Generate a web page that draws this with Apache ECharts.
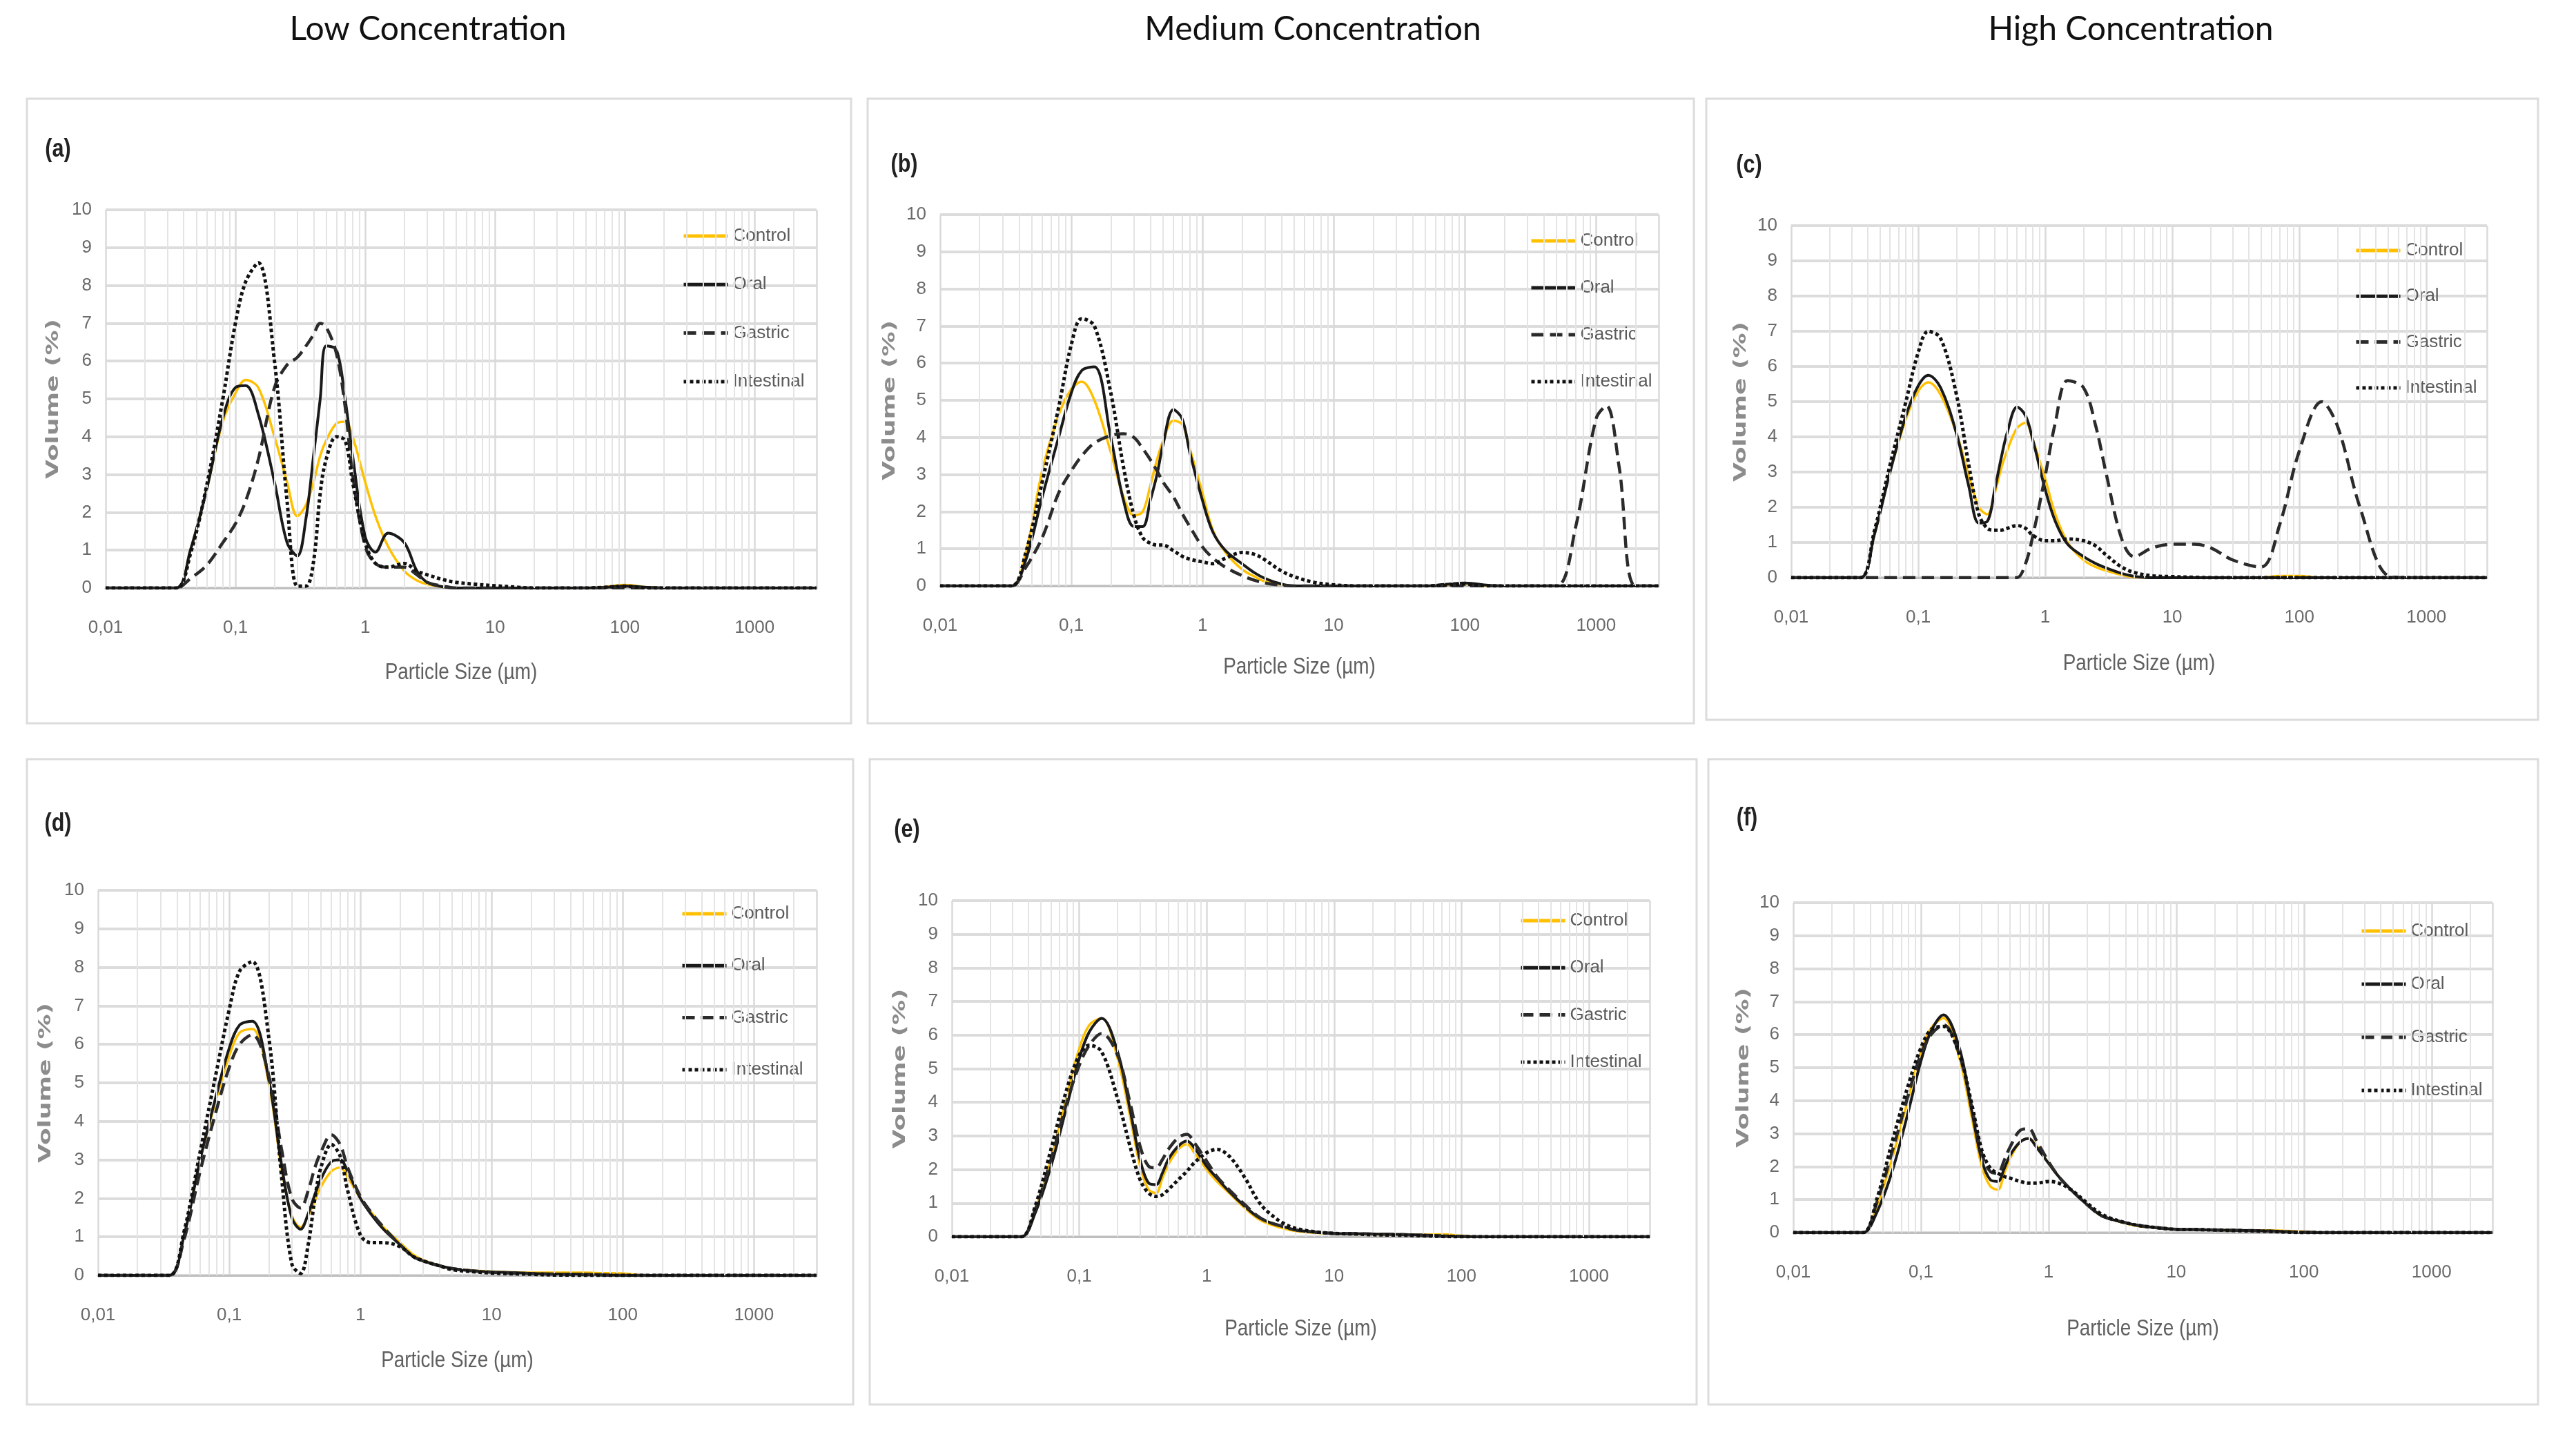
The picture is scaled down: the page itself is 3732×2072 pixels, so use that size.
<!DOCTYPE html>
<html><head><meta charset="utf-8">
<script src="https://cdn.jsdelivr.net/npm/echarts@6/dist/echarts.min.js"></script>
<style>html,body{margin:0;padding:0;background:#fff}#c{width:3732px;height:2072px}</style>
</head><body><div id="c"></div>
<script>
// ---------- shared x grid (particle size, µm) ----------
const SIZES = [0.01,0.02,0.035, 0.045,0.06,0.08,0.1,0.12,0.15,0.2,0.25,0.3,0.35,0.4,0.45,0.5,0.6,0.7,0.8, 1,1.2,1.5,2,2.5,3,4,5,7, 10,15,20,30,50,70,100,150,200,300,500,700, 1000,1200,1500,2000,3000];
const SERIES_NAMES = ['Control','Oral','Gastric','Intestinal'];
const X_TICKS = [0.01,0.1,1,10,100,1000];
const X_TICK_LABELS = ['0,01','0,1','1','10','100','1000'];
const COLUMN_TITLES = ['Low Concentration','Medium Concentration','High Concentration'];
const PANEL_TAGS = ['(a)','(b)','(c)','(d)','(e)','(f)'];
const X_NAME = 'Particle Size (µm)';
const Y_NAME = 'Volume (%)';

// ---------- (a) ----------
const A_CONTROL    = [0,0,0, 1.0,2.6,4.4,5.15,5.5,5.3,4.0,2.8,1.9,2.2,2.8,3.5,3.9,4.35,4.4,4.0, 2.8,1.9,1.1,0.45,0.2,0.1,0.03,0,0, 0,0,0,0,0,0.03,0.08,0.02,0,0,0,0, 0,0,0,0,0];
const A_ORAL       = [0,0,0, 1.0,2.6,4.5,5.3,5.35,4.6,2.8,1.2,0.85,1.85,3.5,5.0,6.4,6.3,5.0,3.5, 1.35,0.95,1.45,1.2,0.45,0.15,0.03,0,0, 0,0,0,0,0,0.02,0.05,0.02,0,0,0,0, 0,0,0,0,0];
const A_GASTRIC    = [0,0,0, 0.25,0.6,1.2,1.7,2.3,3.4,5.3,5.9,6.1,6.4,6.7,7.0,6.9,6.2,4.8,3.0, 1.1,0.65,0.55,0.55,0.35,0.15,0.05,0,0, 0,0,0,0,0,0,0,0,0,0,0,0, 0,0,0,0,0];
const A_INTESTINAL = [0,0,0, 0.9,2.7,5.0,7.0,8.1,8.6,6.0,2.3,0.05,0.05,0.7,2.5,3.4,4.0,3.9,2.8, 1.2,0.65,0.55,0.65,0.45,0.35,0.22,0.15,0.1, 0.06,0.02,0,0,0,0.02,0.05,0,0,0,0,0, 0,0,0,0,0];
// ---------- (b) ----------
const B_CONTROL    = [0,0,0, 0.9,3.1,4.6,5.3,5.5,5.0,3.6,2.4,1.9,2.0,2.7,3.4,3.9,4.45,4.35,3.7, 2.5,1.5,0.9,0.45,0.25,0.12,0.04,0,0, 0,0,0,0,0,0.03,0.06,0,0,0,0,0, 0,0,0,0,0];
const B_ORAL       = [0,0,0, 0.7,2.4,4.0,5.2,5.8,5.9,4.0,2.3,1.6,1.6,2.3,3.0,3.8,4.75,4.5,3.6, 2.3,1.45,0.95,0.6,0.35,0.2,0.05,0,0, 0,0,0,0,0,0.04,0.08,0.02,0,0,0,0, 0,0,0,0,0];
const B_GASTRIC    = [0,0,0, 0.5,1.3,2.5,3.1,3.5,3.85,4.05,4.1,4.0,3.7,3.4,3.1,2.8,2.4,1.95,1.6, 1.05,0.75,0.5,0.28,0.15,0.08,0.02,0,0, 0,0,0,0,0,0,0,0,0,0,0,1.6, 4.5,4.85,3.2,0,0];
const B_INTESTINAL = [0,0,0, 0.9,2.8,4.8,6.5,7.2,7.0,5.2,3.2,1.9,1.3,1.15,1.1,1.1,0.95,0.8,0.72, 0.65,0.6,0.75,0.9,0.85,0.7,0.4,0.25,0.1, 0.03,0,0,0,0,0.02,0.05,0,0,0,0,0, 0,0,0,0,0];
// ---------- (c) ----------
const C_CONTROL    = [0,0,0, 1.2,3.0,4.5,5.3,5.55,5.2,4.1,2.9,2.0,1.8,2.4,3.1,3.6,4.25,4.4,3.9, 2.8,1.8,1.0,0.5,0.3,0.2,0.08,0.02,0, 0,0,0,0,0,0.05,0.05,0,0,0,0,0, 0,0,0,0,0];
const C_ORAL       = [0,0,0, 1.2,3.0,4.6,5.45,5.75,5.4,4.1,2.6,1.55,1.6,2.5,3.4,4.1,4.85,4.6,3.9, 2.5,1.6,0.95,0.6,0.4,0.28,0.12,0.04,0, 0,0,0,0,0,0,0,0,0,0,0,0, 0,0,0,0,0];
const C_GASTRIC    = [0,0,0, 0,0,0,0,0,0,0,0,0,0,0,0,0,0,0.4,1.2, 2.9,4.4,5.6,5.4,4.3,3.0,1.1,0.6,0.85, 0.95,0.95,0.85,0.5,0.3,1.5,3.6,5.0,4.3,2.0,0.05,0, 0,0,0,0,0];
const C_INTESTINAL = [0,0,0, 1.3,3.2,5.0,6.4,7.0,6.8,5.2,3.2,1.8,1.4,1.35,1.35,1.4,1.48,1.4,1.2, 1.05,1.05,1.1,1.05,0.9,0.65,0.3,0.15,0.05, 0.03,0.01,0,0,0,0,0,0,0,0,0,0, 0,0,0,0,0];
// ---------- (d) ----------
const D_CONTROL    = [0,0,0, 1.0,3.0,4.6,5.7,6.3,6.4,5.0,2.8,1.55,1.25,1.55,1.95,2.3,2.7,2.8,2.55, 2.0,1.65,1.25,0.85,0.55,0.4,0.25,0.18,0.13, 0.1,0.08,0.07,0.07,0.07,0.06,0.05,0,0,0,0,0, 0,0,0,0,0];
const D_ORAL       = [0,0,0, 1.0,3.0,4.7,5.9,6.5,6.6,5.1,2.9,1.5,1.2,1.6,2.1,2.5,2.95,3.0,2.7, 2.0,1.6,1.2,0.8,0.5,0.38,0.25,0.18,0.12, 0.09,0.07,0.05,0.04,0.03,0.02,0,0,0,0,0,0, 0,0,0,0,0];
const D_GASTRIC    = [0,0,0, 0.9,2.7,4.3,5.4,6.0,6.25,5.2,3.3,2.0,1.75,2.2,2.8,3.2,3.65,3.4,2.8, 2.05,1.65,1.25,0.8,0.5,0.38,0.25,0.18,0.12, 0.08,0.06,0.05,0.03,0.02,0.01,0,0,0,0,0,0, 0,0,0,0,0];
const D_INTESTINAL = [0,0,0, 1.1,3.2,5.3,6.9,7.9,8.15,6.2,2.6,0.3,0.05,0.8,2.0,2.8,3.4,3.1,2.2, 1.05,0.85,0.85,0.75,0.5,0.38,0.25,0.15,0.1, 0.06,0.04,0.03,0.01,0,0,0,0,0,0,0,0, 0,0,0,0,0];
// ---------- (e) ----------
const E_CONTROL    = [0,0,0, 0.8,2.3,4.2,5.6,6.3,6.5,5.3,3.6,2.1,1.4,1.3,1.75,2.15,2.6,2.75,2.5, 2.0,1.65,1.3,0.85,0.55,0.4,0.25,0.17,0.12, 0.09,0.08,0.07,0.07,0.06,0.07,0.03,0,0,0,0,0, 0,0,0,0,0];
const E_ORAL       = [0,0,0, 0.7,2.1,3.9,5.3,6.1,6.5,5.5,3.8,2.3,1.6,1.55,1.9,2.3,2.7,2.85,2.65, 2.1,1.75,1.35,0.9,0.6,0.45,0.3,0.2,0.14, 0.1,0.09,0.08,0.07,0.05,0.03,0.01,0,0,0,0,0, 0,0,0,0,0];
const E_GASTRIC    = [0,0,0, 0.8,2.3,4.0,5.1,5.7,6.05,5.4,4.0,2.7,2.1,2.05,2.3,2.6,2.95,3.05,2.8, 2.25,1.8,1.4,0.95,0.62,0.45,0.3,0.2,0.14, 0.1,0.09,0.08,0.07,0.04,0.02,0.01,0,0,0,0,0, 0,0,0,0,0];
const E_INTESTINAL = [0,0,0, 0.9,2.6,4.4,5.4,5.7,5.5,4.1,2.7,1.7,1.3,1.2,1.25,1.4,1.7,1.95,2.2, 2.5,2.6,2.4,1.75,1.1,0.75,0.4,0.25,0.15, 0.1,0.08,0.06,0.05,0.03,0.01,0,0,0,0,0,0, 0,0,0,0,0];
// ---------- (f) ----------
const F_CONTROL    = [0,0,0, 0.8,2.3,4.1,5.5,6.2,6.5,5.3,3.5,2.0,1.4,1.3,1.8,2.25,2.75,2.85,2.65, 2.1,1.7,1.3,0.85,0.55,0.42,0.28,0.2,0.15, 0.1,0.09,0.08,0.07,0.07,0.06,0.03,0,0,0,0,0, 0,0,0,0,0];
const F_ORAL       = [0,0,0, 0.6,1.9,3.7,5.2,6.1,6.6,5.6,3.7,2.2,1.6,1.55,1.95,2.35,2.75,2.85,2.6, 2.1,1.7,1.3,0.85,0.55,0.42,0.3,0.22,0.15, 0.1,0.09,0.08,0.07,0.05,0.03,0.01,0,0,0,0,0, 0,0,0,0,0];
const F_GASTRIC    = [0,0,0, 0.9,2.5,4.2,5.4,6.0,6.3,5.4,3.8,2.4,1.85,1.8,2.2,2.6,3.1,3.15,2.8, 2.15,1.7,1.3,0.85,0.55,0.42,0.3,0.22,0.15, 0.1,0.09,0.08,0.07,0.05,0.03,0.01,0,0,0,0,0, 0,0,0,0,0];
const F_INTESTINAL = [0,0,0, 1.0,2.8,4.5,5.6,6.15,6.25,5.4,3.9,2.5,1.95,1.8,1.7,1.65,1.55,1.5,1.5, 1.55,1.5,1.3,0.9,0.6,0.45,0.3,0.22,0.15, 0.1,0.09,0.08,0.06,0.04,0.02,0,0,0,0,0,0, 0,0,0,0,0];

const PANEL_DATA = [
  [A_CONTROL, A_ORAL, A_GASTRIC, A_INTESTINAL],
  [B_CONTROL, B_ORAL, B_GASTRIC, B_INTESTINAL],
  [C_CONTROL, C_ORAL, C_GASTRIC, C_INTESTINAL],
  [D_CONTROL, D_ORAL, D_GASTRIC, D_INTESTINAL],
  [E_CONTROL, E_ORAL, E_GASTRIC, E_INTESTINAL],
  [F_CONTROL, F_ORAL, F_GASTRIC, F_INTESTINAL]
];

// ---------- layout (pixels) ----------
const LAYOUT = [
  {frame:[39,143,1194,905],   plot:[153,304,1030,548],  tag:[84,217],   yNameX:78,   xNameY:975,  legend:[988,342,70.3]},
  {frame:[1257,143,1197,905], plot:[1362,311,1041,538], tag:[1310,239], yNameX:1290, xNameY:967,  legend:[2216,349,68]},
  {frame:[2472,143,1205,900], plot:[2595,327,1008,510], tag:[2534,240], yNameX:2523, xNameY:962,  legend:[3411,363,66.3]},
  {frame:[39,1100,1197,935],  plot:[142,1290,1041,558], tag:[84,1194],  yNameX:67,   xNameY:1972, legend:[986,1324,75.3]},
  {frame:[1260,1100,1198,935],plot:[1379,1305,1011,487],tag:[1314,1203],yNameX:1305, xNameY:1926, legend:[2201,1334,68.3]},
  {frame:[2475,1100,1202,935],plot:[2598,1308,1013,478],tag:[2531,1186],yNameX:2527, xNameY:1926, legend:[3419,1349,77]}
];
const TITLE_POS = [[620,43],[1902,43],[3087,43]];

const SANS = "'Liberation Sans',Arial,sans-serif";
const LINE_STYLES = {
  Control:    {color:'#FFC000', width:3.5, type:'solid'},
  Oral:       {color:'#1a1a1a', width:4,   type:'solid'},
  Gastric:    {color:'#2b2b2b', width:4.5, type:[18,9]},
  Intestinal: {color:'#111111', width:5,   type:[5,4]}
};
const MINOR = [];
for (let d = -2; d <= 3; d++) for (let k = 2; k <= 9; k++) {
  const v = +(k * Math.pow(10, d)).toPrecision(6);
  if (v < 3000) MINOR.push(v);
}

const option = {animation:false, backgroundColor:'#ffffff', grid:[], xAxis:[], yAxis:[], series:[], legend:[], graphic:[]};

LAYOUT.forEach((p, i) => {
  const [pl, pt, pw, ph] = p.plot;
  option.grid.push({left:pl, top:pt, width:pw, height:ph});
  option.xAxis.push({
    type:'log', logBase:10, gridIndex:i, min:0.01, max:3000,
    axisLine:{show:true, lineStyle:{color:'#bfbfbf', width:3}},
    axisTick:{show:false},
    axisLabel:{margin:45, fontFamily:SANS, fontSize:26, color:'#6a6a6a', showMaxLabel:false,
      formatter: v => { const k = X_TICKS.findIndex(t => Math.abs(Math.log10(t) - Math.log10(v)) < 1e-6); return k >= 0 ? X_TICK_LABELS[k] : ''; }},
    splitLine:{show:true, lineStyle:{color:'#dadada', width:2.5}}
  });
  option.yAxis.push({
    type:'value', gridIndex:i, min:0, max:10, interval:1,
    axisLine:{show:false}, axisTick:{show:false},
    axisLabel:{margin:20, fontFamily:SANS, fontSize:26, color:'#6a6a6a'},
    splitLine:{show:true, lineStyle:{color:'#dcdcdc', width:4}}
  });
  // minor vertical gridlines (2..9 of each decade)
  option.series.push({
    type:'line', name:'minor'+i, xAxisIndex:i, yAxisIndex:i, data:[], silent:true, z:1,
    markLine:{silent:true, symbol:['none','none'], label:{show:false}, animation:false,
      lineStyle:{color:'#e4e4e4', width:2, type:'solid'},
      data: MINOR.map(v => ({xAxis:v}))}
  });
  SERIES_NAMES.forEach((name, s) => {
    const vals = PANEL_DATA[i][s];
    const ls = LINE_STYLES[name];
    option.series.push({
      type:'line', name, xAxisIndex:i, yAxisIndex:i, z:3 + s,
      data: SIZES.map((x, k) => [x, vals[k]]),
      smooth:0.35, symbol:'none', showSymbol:false,
      lineStyle:{color:ls.color, width:ls.width, type:ls.type, cap:'butt'},
      itemStyle:{color:ls.color}
    });
  });
  const [lx, ly, lstep] = p.legend;
  option.legend.push({
    data:SERIES_NAMES, orient:'vertical', left:lx, top:ly - 15, padding:0,
    itemWidth:64, itemHeight:30, itemGap:lstep - 30, selectedMode:false,
    itemStyle:{opacity:0},
    lineStyle:{width:5},
    textStyle:{fontFamily:SANS, fontSize:26, color:'#5a5a5a', lineHeight:30, padding:[0,0,0,2]}
  });
  const [fx, fy, fw, fh] = p.frame;
  option.graphic.push({type:'rect', silent:true, z:0, shape:{x:fx, y:fy, width:fw, height:fh},
    style:{fill:'none', stroke:'#dcdcdc', lineWidth:3}});
  option.graphic.push({type:'text', silent:true, x:p.tag[0], y:p.tag[1], scaleX:0.85,
    style:{text:PANEL_TAGS[i], fontFamily:SANS, fontWeight:'bold', fontSize:36, fill:'#222222', align:'center', verticalAlign:'middle'}});
  option.graphic.push({type:'text', silent:true, x:p.yNameX, y:pt + ph / 2, rotation:Math.PI / 2, scaleX:1.5,
    style:{text:Y_NAME, fontFamily:"'DejaVu Sans',sans-serif", fontWeight:'bold', fontSize:24, fill:'#8c8c8c', align:'center', verticalAlign:'middle'}});
  option.graphic.push({type:'text', silent:true, x:pl + pw / 2, y:p.xNameY, scaleX:0.82,
    style:{text:X_NAME, fontFamily:SANS, fontSize:34, fill:'#606060', align:'center', verticalAlign:'middle'}});
});
COLUMN_TITLES.forEach((t, j) => {
  option.graphic.push({type:'text', silent:true, x:TITLE_POS[j][0], y:TITLE_POS[j][1],
    style:{text:t, fontFamily:"Lato,'Open Sans',sans-serif", fontSize:48, fill:'#111111', align:'center', verticalAlign:'middle'}});
});

const chart = echarts.init(document.getElementById('c'), null, {renderer:'canvas'});
chart.setOption(option);
</script>
</body></html>
